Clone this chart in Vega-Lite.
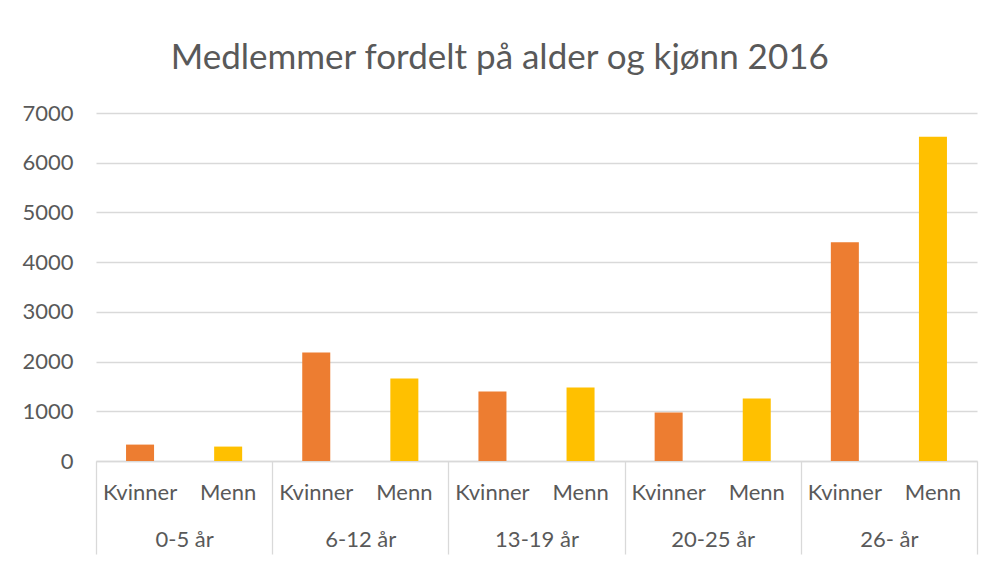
{
  "$schema": "https://vega.github.io/schema/vega-lite/v6.json",
  "width": 881,
  "height": 348,
  "padding": {"left": 21, "top": 41, "right": 16, "bottom": 0},
  "background": "white",
  "title": {
    "text": "Medlemmer fordelt på alder og kjønn 2016",
    "font": "Lato",
    "fontSize": 35,
    "fontWeight": "normal",
    "color": "#595959",
    "anchor": "middle",
    "frame": "bounds",
    "offset": 26
  },
  "data": {
    "values": [
      {"alder": "0-5 år", "kjonn": "Kvinner", "antall": 330},
      {"alder": "0-5 år", "kjonn": "Menn", "antall": 290},
      {"alder": "6-12 år", "kjonn": "Kvinner", "antall": 2180},
      {"alder": "6-12 år", "kjonn": "Menn", "antall": 1660},
      {"alder": "13-19 år", "kjonn": "Kvinner", "antall": 1400},
      {"alder": "13-19 år", "kjonn": "Menn", "antall": 1480},
      {"alder": "20-25 år", "kjonn": "Kvinner", "antall": 975},
      {"alder": "20-25 år", "kjonn": "Menn", "antall": 1255},
      {"alder": "26- år", "kjonn": "Kvinner", "antall": 4400},
      {"alder": "26- år", "kjonn": "Menn", "antall": 6520}
    ]
  },
  "encoding": {
    "x": {
      "field": "alder",
      "type": "nominal",
      "sort": ["0-5 år", "6-12 år", "13-19 år", "20-25 år", "26- år"],
      "scale": {"paddingInner": 0, "paddingOuter": 0},
      "axis": {
        "title": null,
        "labelAngle": 0,
        "grid": false,
        "domainColor": "#D9D9D9",
        "domainWidth": 1.3,
        "tickColor": "#D9D9D9",
        "tickWidth": 1.3,
        "tickBand": "extent",
        "tickSize": 93,
        "labelBaseline": "middle",
        "labelPadding": -15,
        "labelFont": "Lato",
        "labelFontSize": 22,
        "labelColor": "#595959"
      }
    },
    "xOffset": {
      "field": "kjonn",
      "type": "nominal",
      "sort": ["Kvinner", "Menn"],
      "scale": {"paddingInner": 0.682, "paddingOuter": 0.341}
    }
  },
  "layer": [
    {
      "mark": {"type": "bar"},
      "encoding": {
        "y": {
          "field": "antall",
          "type": "quantitative",
          "scale": {"domain": [0, 7000], "nice": false},
          "axis": {
            "title": null,
            "values": [0, 1000, 2000, 3000, 4000, 5000, 6000, 7000],
            "format": "d",
            "domain": false,
            "ticks": false,
            "grid": true,
            "gridColor": "#D9D9D9",
            "gridWidth": 1.3,
            "labelPadding": 23,
            "labelFont": "Lato",
            "labelFontSize": 22,
            "labelColor": "#595959"
          }
        },
        "color": {
          "field": "kjonn",
          "type": "nominal",
          "scale": {"domain": ["Kvinner", "Menn"], "range": ["#ED7D31", "#FFC000"]},
          "legend": null
        }
      }
    },
    {
      "mark": {"type": "text", "dy": 32, "baseline": "middle", "font": "Lato", "fontSize": 22, "color": "#595959"},
      "encoding": {
        "y": {"datum": 0},
        "text": {"field": "kjonn"}
      }
    }
  ],
  "config": {
    "view": {"stroke": null}
  }
}
